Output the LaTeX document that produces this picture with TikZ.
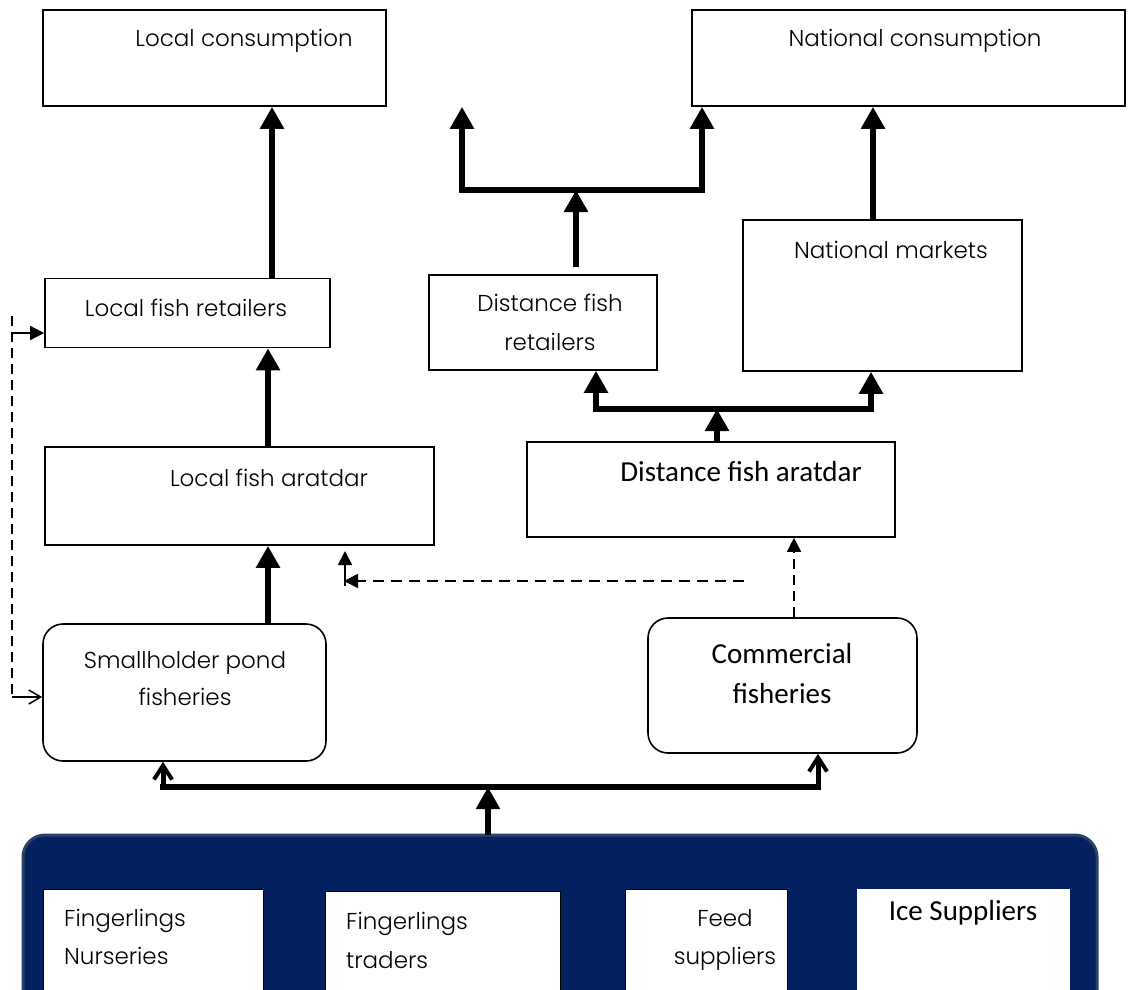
\documentclass[tikz,border=0pt]{standalone}
\usepackage{fontspec}
\setmainfont{Poppins}[UprightFont=* Light]
\newfontfamily\calfont{Carlito}
\usetikzlibrary{arrows.meta,calc}
\definecolor{navy}{HTML}{03215F}
\definecolor{navyedge}{HTML}{2B4266}
\begin{document}
\begin{tikzpicture}[x=1pt,y=-1pt,
  box/.style={draw=black,line width=1.6pt,fill=white,inner sep=0pt},
  rbox/.style={box,rounded corners=20pt},
  lbl/.style={anchor=base,inner sep=0pt,font=\fontsize{23}{26}\selectfont},
  clbl/.style={anchor=base,inner sep=0pt,font=\calfont\fontsize{29}{32}\selectfont},
  flow/.style={line width=6pt,-{Triangle[width=23pt,length=22pt]}},
  bar/.style={line width=6pt,line cap=rect},
  openflow/.style={line width=5pt,-{Straight Barb[width=18pt,length=14pt,line width=4pt]}},
  dashline/.style={line width=1.5pt,dash pattern=on 10pt off 6pt},
  tip/.style={-{Triangle[width=14pt,length=14pt]}},
]
\useasboundingbox (0,0) rectangle (1131,989);

% top row
\node[box,minimum width=343pt,minimum height=96pt] (lc) at (214.5,58) {};
\node[lbl] (lct) at (244,46) {Local consumption};
\node[box,minimum width=433pt,minimum height=96pt] (nc) at (908.5,58) {};
\node[lbl] (nct) at (915,46) {National consumption};

% retailers and markets
\node[box,minimum width=285pt,minimum height=69pt] (lfr) at (187.5,313) {};
\node[lbl] (lfrt) at (186,316) {Local fish retailers};
\node[box,minimum width=228pt,minimum height=95pt] (dfr) at (543,322.5) {};
\node[lbl] (dfrt1) at (550,311) {Distance fish};
\node[lbl] (dfrt2) at (550,350) {retailers};
\node[box,minimum width=279pt,minimum height=151pt] (nm) at (882.5,295.5) {};
\node[lbl] (nmt) at (891,258) {National markets};

% aratdars
\node[box,minimum width=389pt,minimum height=98pt] (lfa) at (239.5,496) {};
\node[lbl] (lfat) at (269,486) {Local fish aratdar};
\node[box,minimum width=368pt,minimum height=95pt] (dfa) at (711,489.5) {};
\node[clbl] (dfat) at (741,481) {Distance fish aratdar};

% producers
\node[rbox,minimum width=283pt,minimum height=137pt] (sp) at (184.5,692.5) {};
\node[lbl] (spt1) at (185,668) {Smallholder pond};
\node[lbl] (spt2) at (185,705) {fisheries};
\node[rbox,minimum width=269pt,minimum height=135pt] (cf) at (782.5,685.5) {};
\node[clbl] (cft1) at (782,663) {Commercial};
\node[clbl] (cft2) at (782,703) {fisheries};

% input suppliers panel
\draw[fill=navy,draw=navyedge,line width=3pt,rounded corners=22pt]
  (23,835) rectangle (1097,1015);
\coordinate (panel) at (488,835);
\node[box,line width=1.2pt,minimum width=220pt,minimum height=110pt,anchor=north west] (fn) at (43,889) {};
\node[lbl,anchor=base west] (fnt1) at (64,926) {Fingerlings};
\node[lbl,anchor=base west] (fnt2) at (64,964) {Nurseries};
\node[box,line width=1.2pt,minimum width=235pt,minimum height=110pt,anchor=north west] (ft) at (325,891) {};
\node[lbl,anchor=base west] (ftt1) at (346,929) {Fingerlings};
\node[lbl,anchor=base west] (ftt2) at (346,968) {traders};
\node[box,line width=1.2pt,minimum width=162pt,minimum height=110pt,anchor=north west] (fs) at (625,889) {};
\node[lbl] (fst1) at (725,926) {Feed};
\node[lbl] (fst2) at (725,964) {suppliers};
\node[fill=white,inner sep=0pt,minimum width=213pt,minimum height=110pt,anchor=north west] (is) at (857,889) {};
\node[clbl] (ist) at (963,920) {Ice Suppliers};

% main flows
\draw[flow] (272,0 |- lfr.north) -- (272,0 |- lc.south);
\coordinate (j1) at (576,190);
\draw[flow] (j1 |- dfr.north) ++(0,-7) -- (j1);
\draw[bar] (462,190) -- (702,190);
\draw[flow] (462,190) -- (462,0 |- lc.south);
\draw[flow] (702,190) -- (702,0 |- nc.south);
\draw[flow] (873,0 |- nm.north) -- (873,0 |- nc.south);

\draw[flow] (268,0 |- lfa.north) -- (268,0 |- lfr.south);
\coordinate (j2) at (717,409);
\draw[flow] (j2 |- dfa.north) -- (j2);
\draw[bar] (596,409) -- (871,409);
\draw[flow] (596,409) -- (596,0 |- dfr.south);
\draw[flow] (871,409) -- (871,0 |- nm.south);

\draw[flow] (268,0 |- sp.north) -- (268,0 |- lfa.south);

\coordinate (j3) at (488,787);
\draw[flow] (panel) -- (j3);
\draw[bar] (163,787) -- (818,787);
\draw[openflow] (163,787) -- (163,0 |- sp.south);
\draw[openflow] (818,787) -- (818,0 |- cf.south);

% dashed side links
\coordinate (d1) at (12,316);
\coordinate (d2) at (12,697);
\draw[dashline] (d1) -- (d2);
\draw[line width=1.5pt,tip] (12,333) -- (12,333 -| lfr.west);
\draw[line width=1.5pt,-{Straight Barb[width=14pt,length=12pt]}] (d2) -- (d2 -| sp.west);

\coordinate (d3) at (744,581);
\draw[dashline,line width=1.8pt,dash pattern=on 11pt off 7pt,tip] (d3) -- (344,581);
\draw[line width=1.8pt,tip] (345,586) -- (345,551);
\draw[dashline,tip] (794,0 |- cf.north) -- (794,0 |- dfa.south);
\end{tikzpicture}
\end{document}
